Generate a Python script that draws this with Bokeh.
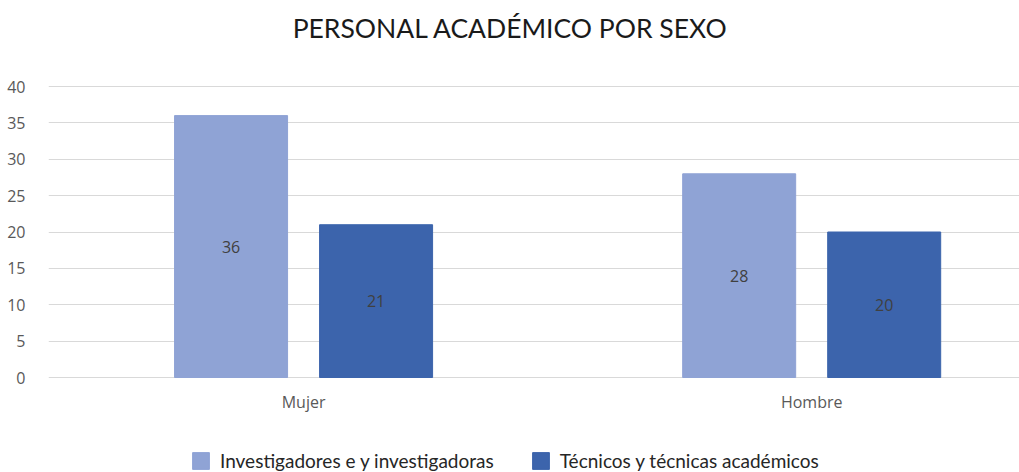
from bokeh.plotting import figure
from bokeh.models import (ColumnDataSource, Range1d, FixedTicker, Legend, LegendItem,
                          LabelSet, Label)
from bokeh.transform import dodge
from bokeh.core.properties import value
from bokeh.embed import file_html
from bokeh.resources import INLINE

# ---- data ----
categories = ["Mujer", "Hombre"]
investigadores = [36, 28]
tecnicos = [21, 20]
series_names = ["Investigadores e y investigadoras", "Técnicos y técnicas académicos"]
y_ticks = [0, 5, 10, 15, 20, 25, 30, 35, 40]
title_text = "PERSONAL ACADÉMICO POR SEXO"

LIGHT = "#8FA3D5"
DARK = "#3C64AC"
GRID = "#D9D9D9"
LABEL = "#595959"
VAL = "#404040"
TFONT = "Lato"
AFONT = "Open Sans"

# layout: plot frame covers the whole height; value axis 0..40 occupies px 86..377
W, H = 1019, 472
TOP_PX, ZERO_PX = 86, 377
ppu = (ZERO_PX - TOP_PX) / 40.0
y_lo = -(H - ZERO_PX) / ppu
y_hi = 40 + TOP_PX / ppu

xpos = [i + 0.5 for i in range(len(categories))]
src = ColumnDataSource(dict(
    x=xpos,
    zero=[0] * len(categories),
    cat=categories,
    inv=investigadores,
    tec=tecnicos,
    inv_mid=[v / 2 for v in investigadores],
    tec_mid=[v / 2 for v in tecnicos],
    inv_txt=[str(v) for v in investigadores],
    tec_txt=[str(v) for v in tecnicos],
))

p = figure(width=W, height=H, x_range=Range1d(-0.002, 1.909), y_range=Range1d(y_lo, y_hi),
           output_backend="svg", toolbar_location=None,
           min_border_left=48, min_border_right=0, min_border_top=0, min_border_bottom=0)
p.outline_line_color = None
p.background_fill_color = "white"
p.xaxis.visible = False

off = 0.1427
bw = 0.2224
r1 = p.vbar(x=dodge("x", -off, range=p.x_range), top="inv", width=bw, source=src,
            fill_color=LIGHT, line_color=LIGHT)
r2 = p.vbar(x=dodge("x", off, range=p.x_range), top="tec", width=bw, source=src,
            fill_color=DARK, line_color=DARK)

for col, txt, o in (("inv_mid", "inv_txt", -off), ("tec_mid", "tec_txt", off)):
    ls = LabelSet(x=dodge("x", o, range=p.x_range), y=col, text=txt, source=src,
                  text_align="center", text_baseline="middle",
                  text_font=value(AFONT), text_font_size="16px", text_color=VAL)
    p.add_layout(ls)

# category labels under the zero line
cats = LabelSet(x="x", y="zero", text="cat", source=src, y_offset=-24,
                text_align="center", text_baseline="middle",
                text_font=value(AFONT), text_font_size="16px", text_color=LABEL)
p.add_layout(cats)

# value axis
p.yaxis.ticker = FixedTicker(ticks=y_ticks)
p.yaxis.axis_line_color = None
p.yaxis.major_tick_line_color = None
p.yaxis.minor_tick_line_color = None
p.yaxis.major_label_text_font = AFONT
p.yaxis.major_label_text_font_size = "16px"
p.yaxis.major_label_text_color = LABEL
p.yaxis.major_label_standoff = 17

p.xgrid.grid_line_color = None
p.ygrid.grid_line_color = GRID
p.ygrid.grid_line_width = 1
p.ygrid.ticker = FixedTicker(ticks=y_ticks)

title = Label(x=510 - 48, y=H - 27, x_units="screen", y_units="screen", text=title_text,
              text_align="center", text_baseline="middle", text_font=TFONT,
              text_font_size="26.5px", text_color="#1A1A1A")
p.add_layout(title)

legend = Legend(items=[LegendItem(label=series_names[0], renderers=[r1]),
                       LegendItem(label=series_names[1], renderers=[r2])],
                orientation="horizontal", location=(142, 0),
                label_text_font=TFONT, label_text_font_size="19px", label_text_color="#262626",
                glyph_width=21, glyph_height=21, label_standoff=9, spacing=36,
                padding=0, margin=0, border_line_color=None, background_fill_alpha=0)
p.add_layout(legend, "center")

open("out.html", "w").write(file_html(p, INLINE))
